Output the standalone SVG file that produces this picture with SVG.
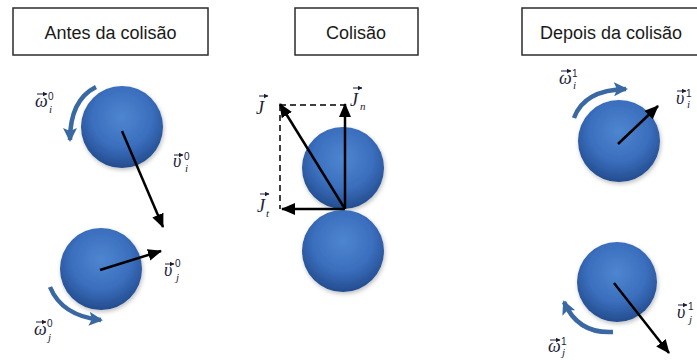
<svg xmlns="http://www.w3.org/2000/svg" width="697" height="360" viewBox="0 0 697 360">
<style>
.title{font-family:"Liberation Sans",Arial,sans-serif;font-size:18px;fill:#1a1a1a;text-anchor:middle}
.box{fill:#fff;stroke:#2b2b2b;stroke-width:1.5}
.ball{fill:url(#bg);filter:url(#sh)}
.vec{stroke:#000;stroke-width:2.5;fill:none;marker-end:url(#ah)}
.dash{stroke:#000;stroke-width:1.5;fill:none;stroke-dasharray:6 4}
.rot{stroke:#3a68a3;stroke-width:4.5;fill:none;marker-end:url(#bh)}
.ov{stroke:#1c1c38;stroke-width:1;fill:none;marker-end:url(#th)}
.m{font-family:"Liberation Serif","Times New Roman",serif;font-style:italic;font-size:18px;fill:#1c1c38}
.s{font-family:"Liberation Sans",Arial,sans-serif;font-size:10px;fill:#1c1c38}
.si{font-family:"Liberation Serif",serif;font-style:italic;font-size:11px;fill:#1c1c38}
</style>
<defs>
<radialGradient id="bg" cx="50%" cy="38%" r="62%">
<stop offset="0" stop-color="#4f86d0"/>
<stop offset="0.6" stop-color="#3a6ebd"/>
<stop offset="1" stop-color="#244c8e"/>
</radialGradient>
<filter id="sh" x="-20%" y="-20%" width="140%" height="140%">
<feDropShadow dx="1" dy="2" stdDeviation="2" flood-color="#000" flood-opacity="0.25"/>
</filter>
<marker id="ah" markerUnits="userSpaceOnUse" markerWidth="14" markerHeight="12" refX="13" refY="6" orient="auto">
<path d="M0,0 L14,6 L0,12 z" fill="#000"/>
</marker>
<marker id="bh" markerUnits="userSpaceOnUse" markerWidth="14" markerHeight="14" refX="12" refY="7" orient="auto">
<path d="M0,0 L14,7 L0,14 L3,7 z" fill="#3a68a3"/>
</marker>
<marker id="th" markerUnits="userSpaceOnUse" markerWidth="5" markerHeight="5" refX="4.5" refY="2.5" orient="auto">
<path d="M0,0 L5,2.5 L0,5 z" fill="#1c1c38"/>
</marker>
</defs>
<rect width="697" height="360" fill="#fff"/>

<g id="title-antes">
<rect class="box" x="13" y="8" width="195" height="47"/>
<text class="title" x="110.5" y="39">Antes da colisão</text>
</g>
<g id="title-colisao">
<rect class="box" x="295" y="8" width="123" height="47"/>
<text class="title" x="356" y="39">Colisão</text>
</g>
<g id="title-depois">
<rect class="box" x="522" y="8" width="185" height="47"/>
<text class="title" x="611" y="39">Depois da colisão</text>
</g>

<g id="ball-i0"><circle class="ball" cx="122" cy="127" r="41"/></g>
<g id="ball-j0"><circle class="ball" cx="101" cy="269" r="41"/></g>
<g id="ball-top-c"><circle class="ball" cx="343" cy="168" r="41"/></g>
<g id="ball-bot-c"><circle class="ball" cx="343" cy="251" r="41"/></g>
<g id="ball-i1"><circle class="ball" cx="619" cy="141" r="41"/></g>
<g id="ball-j1"><circle class="ball" cx="617" cy="282" r="40"/></g>

<g id="connectors">
<path class="dash" d="M280,105 H345"/>
<path class="dash" d="M280,105 V209"/>
<path class="vec" d="M122,131 L163,227"/>
<path class="vec" d="M100,270 L161,251"/>
<path class="vec" d="M345,209 L280,104"/>
<path class="vec" d="M345,209 L345,104"/>
<path class="vec" d="M345,209 L282,209"/>
<path class="vec" d="M618,144 L658,106"/>
<path class="vec" d="M614,283 L669,353"/>
<path class="rot" d="M96,87 Q70,100 70,140"/>
<path class="rot" d="M50,287 Q62,316 101,320"/>
<path class="rot" d="M574,118 Q584,90 626,89"/>
<path class="rot" d="M613,332 Q578,334 564,302"/>
</g>

<g id="label-wi0">
<path class="ov" d="M37,94 H47"/>
<text class="m" x="35" y="107">ω</text>
<text class="s" x="48" y="100">0</text>
<text class="si" x="49" y="113">i</text>
</g>
<g id="label-vi0">
<path class="ov" d="M174,155 H183"/>
<text class="m" x="173" y="167">υ</text>
<text class="s" x="184" y="160">0</text>
<text class="si" x="185" y="172">i</text>
</g>
<g id="label-vj0">
<path class="ov" d="M165,264 H174"/>
<text class="m" x="164" y="276">υ</text>
<text class="s" x="175" y="267">0</text>
<text class="si" x="176" y="281">j</text>
</g>
<g id="label-wj0">
<path class="ov" d="M36,322 H46"/>
<text class="m" x="34" y="335">ω</text>
<text class="s" x="47" y="327">0</text>
<text class="si" x="48" y="341">j</text>
</g>
<g id="label-J">
<path class="ov" d="M259,96 H268"/>
<text class="m" x="256" y="114">J</text>
</g>
<g id="label-Jn">
<path class="ov" d="M353,88 H362"/>
<text class="m" x="350" y="106">J</text>
<text class="si" x="360" y="110">n</text>
</g>
<g id="label-Jt">
<path class="ov" d="M260,194 H269"/>
<text class="m" x="257" y="212">J</text>
<text class="si" x="266" y="217">t</text>
</g>
<g id="label-wi1">
<path class="ov" d="M561,71 H571"/>
<text class="m" x="559" y="84">ω</text>
<text class="s" x="572" y="77">1</text>
<text class="si" x="573" y="89">i</text>
</g>
<g id="label-vi1">
<path class="ov" d="M677,91 H686"/>
<text class="m" x="676" y="104">υ</text>
<text class="s" x="686" y="97">1</text>
<text class="si" x="687" y="108">i</text>
</g>
<g id="label-vj1">
<path class="ov" d="M678,305 H687"/>
<text class="m" x="677" y="318">υ</text>
<text class="s" x="688" y="310">1</text>
<text class="si" x="689" y="323">j</text>
</g>
<g id="label-wj1">
<path class="ov" d="M550,340 H560"/>
<text class="m" x="548" y="352">ω</text>
<text class="s" x="561" y="345">1</text>
<text class="si" x="562" y="356">j</text>
</g>
</svg>
